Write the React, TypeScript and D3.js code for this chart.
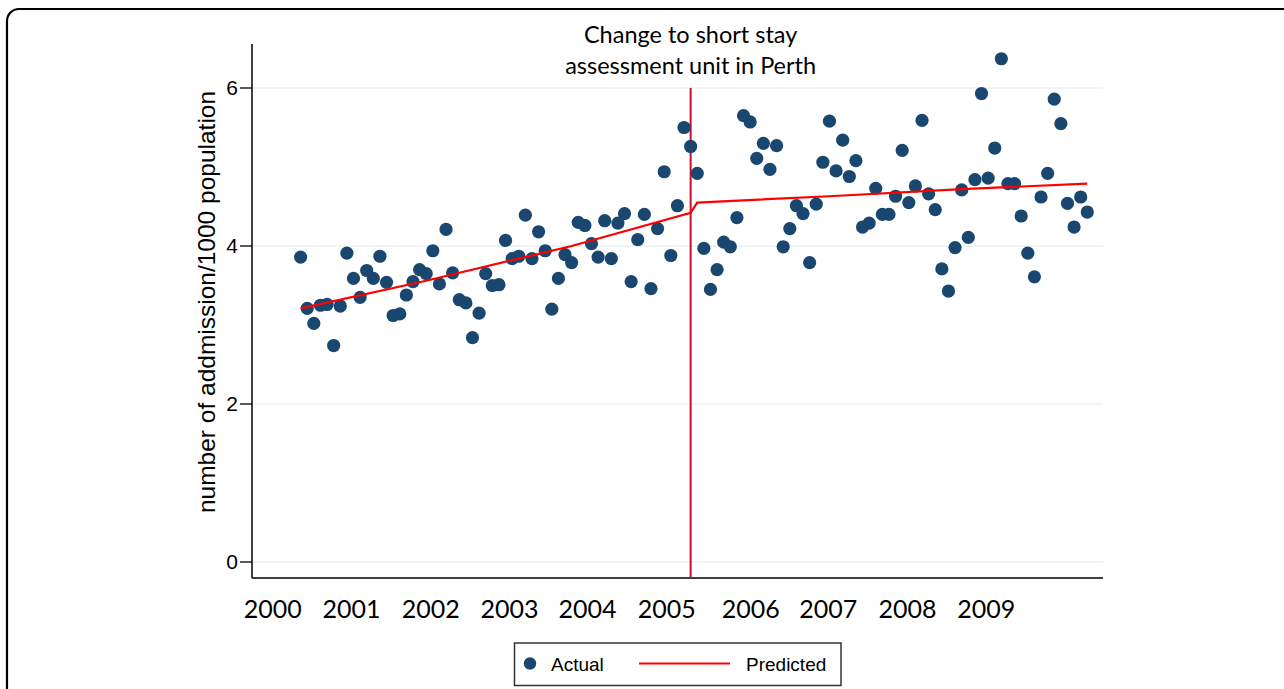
import React from "react";
import * as d3 from "d3";

// Monthly admissions per 1000 population (120 months)
const actual: number[] = [
  3.86, 3.21, 3.02, 3.25, 3.26, 2.74, 3.24, 3.91, 3.59, 3.35, 3.69, 3.59,
  3.87, 3.54, 3.12, 3.14, 3.38, 3.55, 3.7, 3.65, 3.94, 3.52, 4.21, 3.66,
  3.32, 3.28, 2.84, 3.15, 3.65, 3.5, 3.51, 4.07, 3.84, 3.87, 4.39, 3.84,
  4.18, 3.94, 3.2, 3.59, 3.89, 3.79, 4.3, 4.26, 4.03, 3.86, 4.32, 3.84,
  4.29, 4.41, 3.55, 4.08, 4.4, 3.46, 4.22, 4.94, 3.88, 4.51, 5.5, 5.26,
  4.92, 3.97, 3.45, 3.7, 4.05, 3.99, 4.36, 5.65, 5.57, 5.11, 5.3, 4.97,
  5.27, 3.99, 4.22, 4.51, 4.41, 3.79, 4.53, 5.06, 5.58, 4.95, 5.34, 4.88,
  5.08, 4.24, 4.29, 4.73, 4.4, 4.4, 4.63, 5.21, 4.55, 4.76, 5.59, 4.66,
  4.46, 3.71, 3.43, 3.98, 4.71, 4.11, 4.84, 5.93, 4.86, 5.24, 6.37, 4.79,
  4.79, 4.38, 3.91, 3.61, 4.62, 4.92, 5.86, 5.55, 4.54, 4.24, 4.62, 4.43,
];

// Predicted (segmented regression) read at a few months
const predictedMonth: number[] = [0, 19, 41, 59, 60, 80, 100, 119];
const predictedValue: number[] = [3.21, 3.56, 4.0, 4.42, 4.55, 4.63, 4.72, 4.79];

const interventionMonth = 59;

const yTicks: number[] = [0, 2, 4, 6];
const yearLabels: string[] = ["2000", "2001", "2002", "2003", "2004", "2005", "2006", "2007", "2008", "2009"];
const yearLabelMonth: number[] = [-4.2, 7.7, 19.7, 31.6, 43.4, 55.4, 68.1, 79.8, 91.8, 103.7];

const titleLines: string[] = ["Change to short stay", "assessment unit in Perth"];
const yAxisTitle = "number of addmission/1000 population";

export default function App() {
  const W = 1284;
  const H = 689;
  const plotLeft = 252;
  const plotRight = 1103;
  const axisBottom = 578;
  const axisTop = 44;

  const x = d3.scaleLinear().domain([0, actual.length - 1]).range([300.6, 1087.3]);
  const y = d3.scaleLinear().domain([0, 6]).range([562, 88]);

  const predLine = d3
    .line<number>()
    .x((_, i) => x(predictedMonth[i]))
    .y((d) => y(d));

  const navy = "#1a476f";
  const axisFont = "'Liberation Sans', Arial, sans-serif";
  const textFont = "Lato, 'Open Sans', sans-serif";

  return (
    <svg
      width={W}
      height={H}
      style={{ position: "absolute", left: 0, top: 0, display: "block", background: "#fff" }}
    >
      {/* outer rounded frame */}
      <rect x={7} y={9} width={1300} height={720} rx={12} ry={12} fill="none" stroke="#000" strokeWidth={2.2} />

      {/* gridlines */}
      {yTicks.map((t) => (
        <line key={"g" + t} x1={plotLeft} x2={plotRight} y1={y(t)} y2={y(t)} stroke="#eaf2f3" strokeWidth={1.6} />
      ))}

      {/* axes */}
      <line x1={plotLeft} x2={plotLeft} y1={axisTop} y2={axisBottom} stroke="#000" strokeWidth={1.5} />
      <line x1={plotLeft} x2={plotRight} y1={axisBottom} y2={axisBottom} stroke="#000" strokeWidth={1.5} />

      {/* y ticks */}
      {yTicks.map((t) => (
        <g key={"t" + t}>
          <line x1={plotLeft - 12} x2={plotLeft} y1={y(t)} y2={y(t)} stroke="#000" strokeWidth={1.3} />
          <text
            x={plotLeft - 14}
            y={y(t)}
            dy="0.35em"
            textAnchor="end"
            fontFamily={axisFont}
            fontSize={21}
            fill="#000"
          >
            {t}
          </text>
        </g>
      ))}

      {/* y axis title */}
      <text
        transform={`translate(215, 302) rotate(-90)`}
        textAnchor="middle"
        fontFamily={axisFont}
        fontSize={24.5}
        fill="#000"
      >
        {yAxisTitle}
      </text>

      {/* intervention line */}
      <line
        x1={x(interventionMonth)}
        x2={x(interventionMonth)}
        y1={y(6)}
        y2={axisBottom}
        stroke="#c8102e"
        strokeWidth={2}
      />

      {/* actual points */}
      {actual.map((v, i) => (
        <circle key={"p" + i} cx={x(i)} cy={y(v)} r={6.6} fill={navy} />
      ))}

      {/* predicted line */}
      <path d={predLine(predictedValue) || ""} fill="none" stroke="#ff0000" strokeWidth={2.2} />

      {/* title */}
      {titleLines.map((l, i) => (
        <text
          key={"tl" + i}
          x={x(interventionMonth)}
          y={43 + i * 31}
          textAnchor="middle"
          fontFamily={textFont}
          fontSize={23.5}
          fill="#000"
        >
          {l}
        </text>
      ))}

      {/* year labels */}
      {yearLabels.map((l, i) => (
        <text
          key={"y" + l}
          x={x(yearLabelMonth[i])}
          y={618}
          textAnchor="middle"
          fontFamily={textFont}
          fontSize={25}
          fill="#000"
        >
          {l}
        </text>
      ))}

      {/* legend */}
      <rect x={514.5} y={643} width={326.5} height={42.5} fill="#fff" stroke="#333" strokeWidth={1.5} />
      <circle cx={530} cy={663.5} r={6.2} fill={navy} />
      <text x={551} y={671} fontFamily={axisFont} fontSize={19} fill="#000">
        Actual
      </text>
      <line x1={639} x2={730} y1={663.5} y2={663.5} stroke="#ff0000" strokeWidth={2} />
      <text x={746} y={671} fontFamily={axisFont} fontSize={19} fill="#000">
        Predicted
      </text>
    </svg>
  );
}
